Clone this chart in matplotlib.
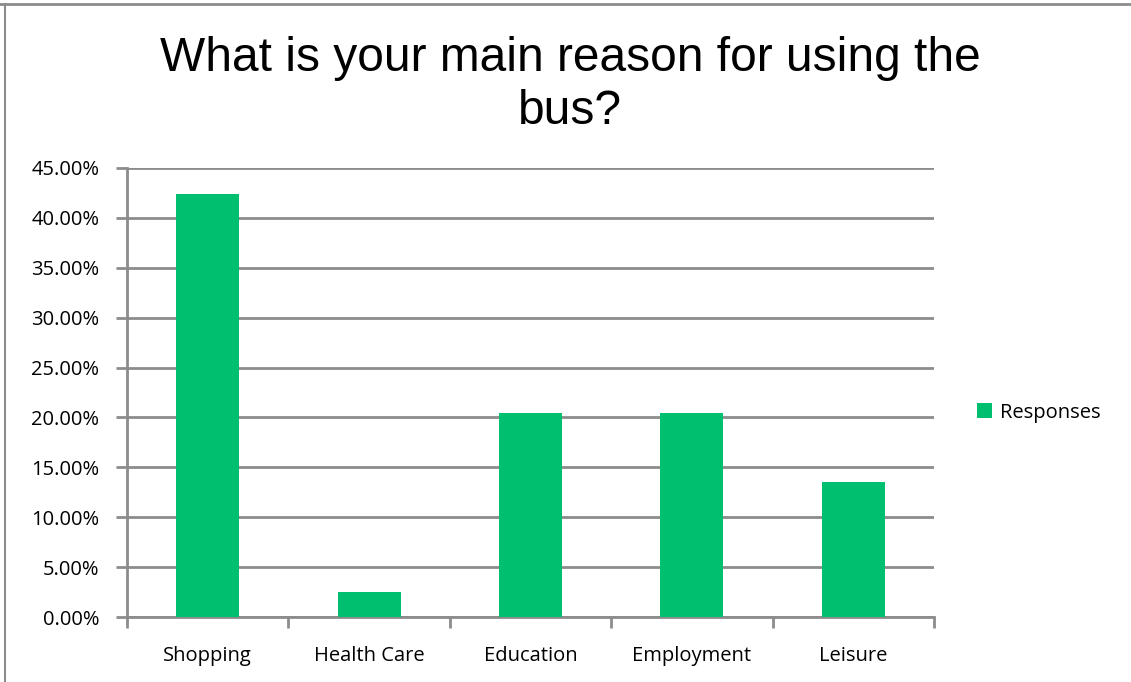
import matplotlib.pyplot as plt
from matplotlib.lines import Line2D
from matplotlib.ticker import FuncFormatter, MultipleLocator

# data
categories = ["Shopping", "Health Care", "Education", "Employment", "Leisure"]
responses = [42.4, 2.5, 20.4, 20.4, 13.5]
series_name = "Responses"

bar_color = "#00bf6f"
grid_color = "#8c8c8c"
label_font = ["Open Sans", "DejaVu Sans"]

fig = plt.figure(figsize=(11.31, 6.82), dpi=100)
ax = fig.add_axes([127 / 1131, 0.0953, 807 / 1131, 0.6584])

x = range(len(categories))
ax.bar(x, responses, width=0.39, color=bar_color, label=series_name, zorder=3)

ax.set_xlim(-0.5, len(categories) - 0.5)
ax.set_ylim(0, 45)
ax.yaxis.set_major_locator(MultipleLocator(5))
ax.yaxis.set_major_formatter(FuncFormatter(lambda v, p: "{:.2f}%".format(v)))
ax.grid(axis="y", color=grid_color, linewidth=2, zorder=0)

ax.set_xticks(list(x))
ax.set_xticklabels(categories)
ax.set_xticks([i - 0.5 for i in range(len(categories) + 1)], minor=True)
ax.tick_params(axis="x", which="major", length=0, pad=21)
ax.tick_params(axis="x", which="minor", length=8, width=2, color=grid_color, direction="out")
ax.tick_params(axis="y", length=8, width=2, color=grid_color, direction="out", pad=12)
for lab in ax.get_xticklabels() + ax.get_yticklabels():
    lab.set_fontfamily(label_font)
    lab.set_fontsize(14.5)
    lab.set_color("black")

for s in ["top", "right"]:
    ax.spines[s].set_visible(False)
for s in ["left", "bottom"]:
    ax.spines[s].set_color(grid_color)
    ax.spines[s].set_linewidth(2)

fig.text(0.504, 1 - 36 / 682, "What is your main reason for using the\nbus?", ha="center", va="top",
         fontsize=34.5, family=["Liberation Sans", "DejaVu Sans"], linespacing=1.22)

leg = fig.legend(loc="center left", bbox_to_anchor=(0.857, 0.395), frameon=False,
                 handlelength=0.75, handleheight=0.75, handletextpad=0.4, borderaxespad=0,
                 prop={"family": label_font, "size": 14.5})

# outer chart border
fig.add_artist(Line2D([0, 1], [1 - 4 / 682, 1 - 4 / 682], transform=fig.transFigure, color="#8c8c8c", linewidth=2))
fig.add_artist(Line2D([5 / 1131, 5 / 1131], [0, 1 - 4 / 682], transform=fig.transFigure, color="#8c8c8c", linewidth=1.5))

fig.savefig("out.png", dpi=100)
